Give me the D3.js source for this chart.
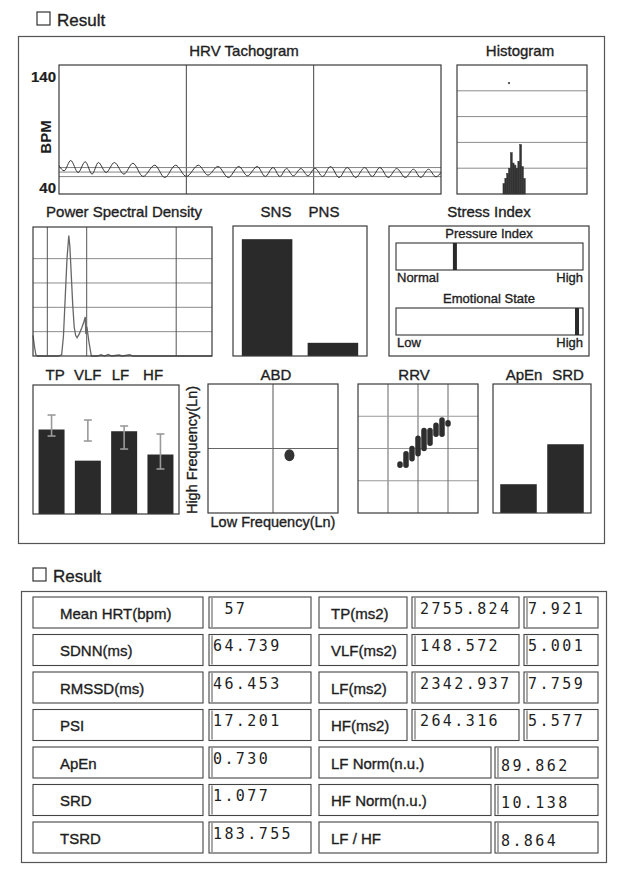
<!DOCTYPE html>
<html><head><meta charset="utf-8">
<script src="https://cdn.jsdelivr.net/npm/d3@7"></script>
<style>
body{margin:0;background:#fff;}
svg{display:block;font-family:"Liberation Sans",Arial,Helvetica,sans-serif;}
.mono{font-family:"DejaVu Sans Mono",monospace;white-space:pre;}
</style></head><body>
<svg id="c" width="628" height="874"></svg>
<script>
// ---------------- DATA ----------------
const tachoTime = [0,4,9.2,15,20.6,26,30.9,37,43.5,51,58,66,75.2,83,91.6,100,109.5,117,124.8,133,141.2,148,155.7,162,168.1,173.5,178.7,184,190,195.5,201,207,213.2,220,226.4,233,240.1,246,252,258.6,265.2,272,278.4,284,290.2,296,300];
const tachoBpm  = [62,58,66,56.7,65,55.4,64.4,56.7,64.4,55.4,63.8,53.6,62.3,52.8,62.3,53.6,62.3,54.6,61.3,52.8,61.3,54.1,61.3,53.6,60.5,53.6,59.7,54.1,59.7,54.1,60,53.6,61.3,52.8,60.5,52.8,60.5,53.6,60.5,52.8,59.7,52.8,59.2,52.8,59.2,53.3,56.7];
const tachoRefLines = [60.5, 57, 53.5];
const tachoTimeGrid = [100, 200];
const tachoTicks = [140, 40];

const histBinStart = [895,915,935,955,975,995,1015,1035,1055,1075,1095,1115];
const histBinWidth = 20;
const histCounts   = [2,3,4,5,8,6,5.6,5,6.3,9.6,5.3,3];
const histGrid = [5,10,15,20];
const histOutlier = [{rr: 960, count: 21.5}];

const psdFreq  = [0,0.004,0.008,0.012,0.04,0.07,0.08,0.085,0.09,0.095,0.1,0.103,0.107,0.111,0.115,0.119,0.123,0.129,0.136,0.142,0.146,0.1475,0.1505,0.156,0.163,0.18,0.19,0.2,0.21,0.22,0.24,0.25,0.27,0.28,0.5];
const psdPower = [0.85,0.4,0.05,0,0,0,0.05,0.8,2.4,4.0,4.95,4.5,3.3,2.1,1.2,0.85,0.75,0.9,1.15,1.4,1.6,0.9,1.2,0.6,0,0,0.05,0,0.06,0,0.04,0,0.05,0,0];
const psdBands = [0.04, 0.15, 0.4];
const psdGrid = [1,2,3,4];

const nervCats = ["SNS","PNS"];
const nervVals = [89.862, 10.138];

const stressCats = ["Pressure Index","Emotional State"];
const stressVals = [31.5, 96.8];
const stressLow  = ["Normal","Low"];
const stressHigh = ["High","High"];

const specCats = ["TP","VLF","LF","HF"];
const specLn   = [7.921, 5.001, 7.759, 5.577];
const specLo   = [7.31, 6.84, 6.09, 4.22];
const specHi   = [9.28, 8.81, 8.25, 7.50];

const abdLF = [7.759];
const abdHF = [5.577];
const abdCenter = {lf: 7, hf: 6};

const rrvX    = [975,1000,1025,1050,1075,1100,1125,1150,1175];
const rrvYmin = [985,985,1010,1030,1050,1070,1105,1105,1145];
const rrvYmax = [990,1030,1050,1090,1120,1120,1140,1160,1150];
const rrvGrid = [925,1050,1175];

const apCats = ["ApEn","SRD"];
const apVals = [0.730, 1.077];

const tblLeftLabels  = ["Mean HRT(bpm)","SDNN(ms)","RMSSD(ms)","PSI","ApEn","SRD","TSRD"];
const tblLeftValues  = [" 57","64.739","46.453","17.201","0.730","1.077","183.755"];
const tblRightLabels = ["TP(ms2)","VLF(ms2)","LF(ms2)","HF(ms2)","LF Norm(n.u.)","HF Norm(n.u.)","LF / HF"];
const tblRightValues = ["2755.824","148.572","2342.937","264.316","89.862","10.138","8.864"];
const tblRightLn     = ["7.921","5.001","7.759","5.577"];

// ---------------- DRAW ----------------
const svg = d3.select("#c");
svg.append("rect").attr("width",628).attr("height",874).attr("fill","#fff");
const INK="#1e1e1e", GRID="#8c8c8c", FRAME="#3a3a3a", BAR="#2a2a2a";

function box(x0,y0,x1,y1,sw,col){
  return svg.append("rect").attr("x",x0).attr("y",y0).attr("width",x1-x0).attr("height",y1-y0)
    .attr("fill","none").attr("stroke",col||FRAME).attr("stroke-width",sw||1.2);
}
function txt(x,y,s,size,anchor,weight){
  return svg.append("text").attr("x",x).attr("y",y).text(s).attr("font-size",size||15)
    .attr("text-anchor",anchor||"start").attr("font-weight",weight||"normal").attr("fill",INK)
    .attr("stroke",INK).attr("stroke-width",weight==="bold"?0.2:0.35);
}
function hline(x0,x1,y,col,sw){svg.append("line").attr("x1",x0).attr("x2",x1).attr("y1",y).attr("y2",y).attr("stroke",col||GRID).attr("stroke-width",sw||1);}
function vline(x,y0,y1,col,sw){svg.append("line").attr("x1",x).attr("x2",x).attr("y1",y0).attr("y2",y1).attr("stroke",col||GRID).attr("stroke-width",sw||1);}

// headings
box(37,12,50,25,1.2,"#333");
txt(57,26,"Result",17);
box(33,568,46,581,1.2,"#333");
txt(53,582,"Result",17);

// panels
box(18.5,36.5,604.5,543.5,1.2,"#555");
box(21.5,591.5,606.5,862.5,1.2,"#555");

// ---- Tachogram
{
  const x = d3.scaleLinear([0,300],[59,441]);
  const y = d3.scaleLinear([40,140],[194,65]);
  tachoTimeGrid.forEach(t=>vline(x(t),65,194,"#444",1));
  tachoRefLines.forEach(v=>hline(59,441,y(v),"#777",0.9));
  svg.append("path").datum(tachoTime.map((t,i)=>[t,tachoBpm[i]]))
    .attr("d",d3.line().x(d=>x(d[0])).y(d=>y(d[1])).curve(d3.curveMonotoneX))
    .attr("fill","none").attr("stroke","#333").attr("stroke-width",1);
  box(59,65,441,194);
  txt(244,56,"HRV Tachogram",15,"middle");
  txt(56,y(140)+17,String(tachoTicks[0]),15,"end","bold");
  txt(56,y(40)-1.5,String(tachoTicks[1]),15,"end","bold");
  svg.append("text").attr("transform","translate(51,137) rotate(-90)").attr("text-anchor","middle")
    .attr("font-size",15).attr("font-weight","bold").attr("fill",INK).text("BPM");
}
// ---- Histogram
{
  const x = d3.scaleLinear([400,1800],[457,587]);
  const y = d3.scaleLinear([0,25],[194,65]);
  histGrid.forEach(v=>hline(457,587,y(v),GRID,1));
  svg.selectAll(".hb").data(histBinStart).enter().append("rect")
    .attr("x",d=>x(d)).attr("width",d=>x(d+histBinWidth)-x(d))
    .attr("y",(d,i)=>y(histCounts[i])).attr("height",(d,i)=>y(0)-y(histCounts[i]))
    .attr("fill","#333").attr("stroke","#333").attr("stroke-width",0.5);
  histOutlier.forEach(o=>svg.append("circle").attr("cx",x(o.rr)).attr("cy",y(o.count)).attr("r",1.1).attr("fill","#444"));
  box(457,65,587,194);
  txt(520,56,"Histogram",15,"middle");
}
// ---- PSD
{
  const x = d3.scaleLinear([0,0.5],[33,212]);
  const y = d3.scaleLinear([0,5.3],[356,227]);
  psdGrid.forEach(v=>hline(33,212,y(v),GRID,1));
  psdBands.forEach(f=>vline(x(f),227,356,"#555",1));
  svg.append("path").datum(psdFreq.map((f,i)=>[f,psdPower[i]]))
    .attr("d",d3.line().x(d=>x(d[0])).y(d=>y(d[1])))
    .attr("fill","none").attr("stroke","#666").attr("stroke-width",1.3);
  box(33,227,212,356);
  txt(124,217,"Power Spectral Density",15,"middle");
}
// ---- SNS / PNS
{
  const x = d3.scaleBand(nervCats,[233,367]).paddingInner(0.232).paddingOuter(0.134);
  const y = d3.scaleLinear([0,100],[356,226]);
  svg.selectAll(".nb").data(nervCats).enter().append("rect")
    .attr("x",d=>x(d)).attr("width",x.bandwidth())
    .attr("y",(d,i)=>y(nervVals[i])).attr("height",(d,i)=>y(0)-y(nervVals[i])).attr("fill",BAR);
  box(233,226,367,356);
  nervCats.forEach((c,i)=>txt(300+(i?24:-24),217,c,15,"middle"));
}
// ---- Stress index
{
  const x = d3.scaleLinear([0,100],[396,583]);
  box(389,226,589,356);
  txt(489,217,"Stress Index",15,"middle");
  const tops=[243,308];
  stressCats.forEach((c,i)=>{
    const t=tops[i];
    txt(489,t-5.5,c,13,"middle");
    box(396,t,583,t+27,1.1,"#333");
    svg.append("rect").attr("x",x(stressVals[i])-2).attr("y",t).attr("width",4).attr("height",27).attr("fill",BAR);
    txt(397,t+38.5,stressLow[i],13,"start");
    txt(583,t+38.5,stressHigh[i],13,"end");
  });
}
// ---- TP VLF LF HF
{
  const x = d3.scaleBand(specCats,[33,179]).paddingInner(0.284).paddingOuter(0.153);
  const y = d3.scaleLinear([0,12],[514,386]);
  svg.selectAll(".sb").data(specCats).enter().append("rect")
    .attr("x",d=>x(d)).attr("width",x.bandwidth())
    .attr("y",(d,i)=>y(specLn[i])).attr("height",(d,i)=>y(0)-y(specLn[i])).attr("fill",BAR);
  specCats.forEach((c,i)=>{
    const cx=x(c)+x.bandwidth()/2;
    vline(cx,y(specHi[i]),y(specLo[i]),"#9a9a9a",1.6);
    hline(cx-4,cx+4,y(specHi[i]),"#9a9a9a",1.6);
    hline(cx-4,cx+4,y(specLo[i]),"#9a9a9a",1.6);
    txt(87+(cx-87)*0.9,380,c,15,"middle");
  });
  box(33,385,179,514);
}
// ---- ABD
{
  const x = d3.scaleLinear([4,10],[208,338]);
  const y = d3.scaleLinear([2,10],[513,384]);
  vline(x(abdCenter.lf),384,513,"#555",1);
  hline(208,338,y(abdCenter.hf),"#666",1);
  abdLF.forEach((v,i)=>svg.append("ellipse").attr("cx",x(v)).attr("cy",y(abdHF[i])).attr("rx",5).attr("ry",6).attr("fill","#333"));
  box(208,384,338,513);
  txt(276,380,"ABD",15,"middle");
  txt(273,527,"Low Frequency(Ln)",14.5,"middle");
  svg.append("text").attr("transform","translate(197,450) rotate(-90)").attr("text-anchor","middle")
    .attr("font-size",14.5).attr("fill",INK).attr("stroke",INK).attr("stroke-width",0.35).text("High Frequency(Ln)");
}
// ---- RRV
{
  const x = d3.scaleLinear([800,1300],[358,478]);
  const y = d3.scaleLinear([800,1300],[513,384]);
  rrvGrid.forEach(v=>{vline(x(v),384,513,"#666",1); hline(358,478,y(v),"#999",1);});
  svg.selectAll(".rr").data(rrvX).enter().append("line")
    .attr("x1",d=>x(d)).attr("x2",d=>x(d))
    .attr("y1",(d,i)=>y(rrvYmin[i])).attr("y2",(d,i)=>y(rrvYmax[i]))
    .attr("stroke","#2e2e2e").attr("stroke-width",5.5).attr("stroke-linecap","round");
  box(358,384,478,513);
  txt(414,380,"RRV",15,"middle");
}
// ---- ApEn SRD
{
  const x = d3.scaleBand(apCats,[493,591]).paddingInner(0.223).paddingOuter(0.154);
  const y = d3.scaleLinear([0.48,1.6],[513,384]);
  svg.selectAll(".ab").data(apCats).enter().append("rect")
    .attr("x",d=>x(d)).attr("width",x.bandwidth())
    .attr("y",(d,i)=>y(apVals[i])).attr("height",(d,i)=>y(0.48)-y(apVals[i])).attr("fill",BAR);
  box(493,384,591,513);
  txt(524,380,apCats[0],15,"middle");
  txt(568,380,apCats[1],15,"middle");
}
// ---- Table
{
  const top0=597, step=37.5, h=31;
  function cell(x0,x1,t,dbl){
    box(x0,t,x1,t+h,1.1,"#444");
    if(dbl) vline(x0+3,t+1,t+h-1,"#555",1);
  }
  function val(x,y,s){
    svg.append("text").attr("class","mono").attr("x",x).attr("y",y).attr("font-size",15)
      .attr("letter-spacing",2.4).attr("fill",INK).text(s);
  }
  tblLeftLabels.forEach((lab,i)=>{
    const t=top0+i*step;
    cell(33,203,t,false);
    txt(60,t+21.5,lab,15);
    cell(209,311,t,true);
    val(213,t+16.5,tblLeftValues[i]);
    if(i<4){
      cell(319,407,t,false);
      txt(331,t+21.5,tblRightLabels[i],15);
      cell(412,519,t,true);
      val(420,t+16.5,tblRightValues[i]);
      cell(524,598,t,true);
      val(528,t+16.5,tblRightLn[i]);
    } else {
      cell(319,491,t,false);
      txt(331,t+21.5,tblRightLabels[i],15);
      cell(495,598,t,true);
      val(501,t+23.5,tblRightValues[i]);
    }
  });
}
</script>
</body></html>
